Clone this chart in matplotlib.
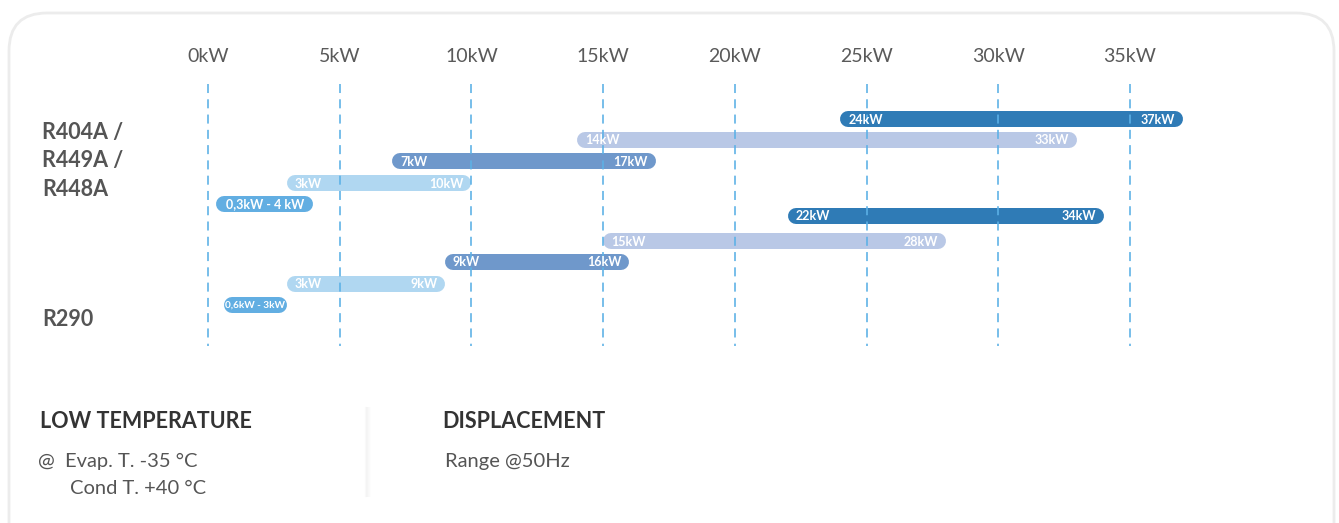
import matplotlib.pyplot as plt
from matplotlib.patches import FancyBboxPatch

# capacity ranges, kW (top row first)
r404_min = [24, 14, 7, 3, 0.3]
r404_max = [37, 33, 17, 10, 4]
r404_lbl = [('24kW', '37kW'), ('14kW', '33kW'), ('7kW', '17kW'), ('3kW', '10kW'), ('0,3kW - 4 kW', None)]
r290_min = [22, 15, 9, 3, 0.6]
r290_max = [34, 28, 16, 9, 3]
r290_lbl = [('22kW', '34kW'), ('15kW', '28kW'), ('9kW', '16kW'), ('3kW', '9kW'), ('0,6kW - 3kW', None)]
ticks = [0, 5, 10, 15, 20, 25, 30, 35]
tick_lbl = ['0kW', '5kW', '10kW', '15kW', '20kW', '25kW', '30kW', '35kW']
row_colors = ['#2f7bb6', '#b9c8e6', '#6f98cb', '#b0d7f1', '#62aee2']

W, H = 1339, 523
plt.rcParams['font.family'] = ['Lato', 'DejaVu Sans']
fig = plt.figure(figsize=(W/100, H/100), dpi=100)

# background axes in pixel coordinates
bg = fig.add_axes([0, 0, 1, 1])
bg.set_xlim(0, W)
bg.set_ylim(H, 0)
bg.axis('off')
bg.add_patch(FancyBboxPatch((9, 13), 1325, 560, boxstyle='round,pad=0,rounding_size=38',
                            fc='white', ec='#ececec', lw=2))
for i, a in enumerate([0.05, 0.04, 0.03, 0.02, 0.01]):
    bg.plot([366 + i, 366 + i], [408, 496], color='#8a8a8a', alpha=a, lw=1.5)

# chart axes: x in kW, y in pixels
px_per_kw = (1130 - 208) / 35.0
ax = fig.add_axes([0, 0, 1, 1])
ax.patch.set_alpha(0)
ax.set_xlim(-208 / px_per_kw, (W - 208) / px_per_kw)
ax.set_ylim(H, 0)
ax.axis('off')

for t, s in zip(ticks, tick_lbl):
    ax.text(t, 57, s, ha='center', va='center', fontsize=14, color='#5a5a5a')
    ax.plot([t, t], [84, 346], color='#5cb1e6', lw=1.3, alpha=0.9, zorder=3,
            linestyle=(0, (6.5 / 1.3, 4.5 / 1.3)))

r = 8 / px_per_kw
bar_lw = 16 * 72 / 100.0
rows1 = [119, 140, 161, 183, 204]
rows2 = [216, 241, 262, 284, 305]
for rows, mins, maxs, lbls in [(rows1, r404_min, r404_max, r404_lbl), (rows2, r290_min, r290_max, r290_lbl)]:
    for y, a, b, (lo, hi), c in zip(rows, mins, maxs, lbls, row_colors):
        ax.plot([a + r, b - r], [y, y], color=c, lw=bar_lw, solid_capstyle='round', zorder=2)
        if hi is None:
            fs = min(9, 9 * ((b - a) * px_per_kw - 8) / (len(lo) * 6.3))
            ax.text((a + b) / 2, y + 0.5, lo, ha='center', va='center', color='white',
                    fontsize=fs, fontweight='bold', zorder=4)
        else:
            ax.text(a + 0.3, y + 0.5, lo, ha='left', va='center', color='white',
                    fontsize=9, fontweight='bold', zorder=4)
            ax.text(b - 0.3, y + 0.5, hi, ha='right', va='center', color='white',
                    fontsize=9, fontweight='bold', zorder=4)

# text blocks
for y, s in zip([133, 161, 189], ['R404A /', 'R449A /', 'R448A']):
    bg.text(42, y, s, ha='left', va='center', fontsize=15.5, fontweight='bold', color='#555555')
bg.text(42, 320, 'R290', ha='left', va='center', fontsize=15.5, fontweight='bold', color='#555555')

bg.text(40, 422, 'LOW TEMPERATURE', ha='left', va='center', fontsize=15.5, fontweight='bold', color='#333333')
bg.text(38, 461, '@  Evap. T. -35 °C', ha='left', va='center', fontsize=14.5, color='#555555')
bg.text(70, 488, 'Cond T. +40 °C', ha='left', va='center', fontsize=14.5, color='#555555')
bg.text(442, 422, 'DISPLACEMENT', ha='left', va='center', fontsize=15.5, fontweight='bold', color='#333333')
bg.text(445, 461, 'Range @50Hz', ha='left', va='center', fontsize=14.5, color='#555555')

fig.savefig('out.png', dpi=100)
